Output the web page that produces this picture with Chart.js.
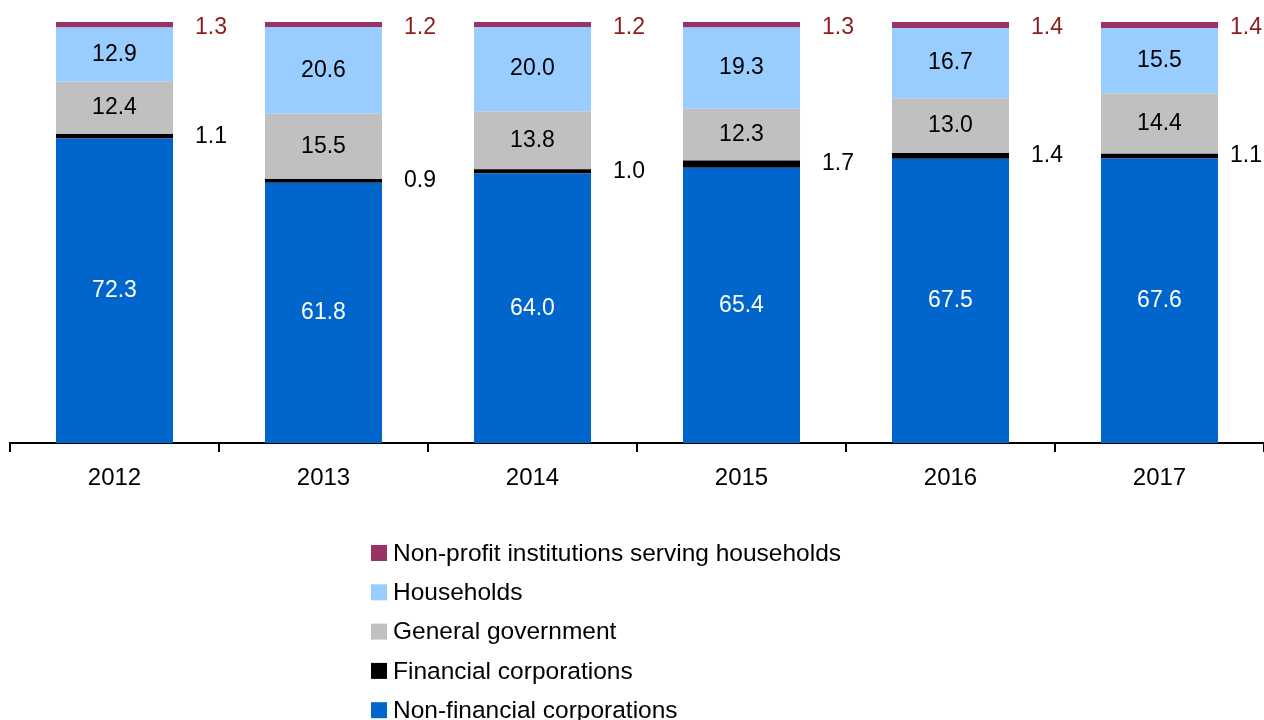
<!DOCTYPE html>
<html>
<head>
<meta charset="utf-8">
<script src="https://cdn.jsdelivr.net/npm/chart.js@4"></script>
<style>
  html, body { margin: 0; padding: 0; background: #fff; }
  #caja { width: 1264px; height: 720px; position: relative; }
</style>
</head>
<body>
<div id="caja"><canvas id="grafico"></canvas></div>
<script>
// Datos (porcentajes por sector)
const anios = ['2012', '2013', '2014', '2015', '2016', '2017'];
const noFinancieras = [72.3, 61.8, 64.0, 65.4, 67.5, 67.6];
const financieras = [1.1, 0.9, 1.0, 1.7, 1.4, 1.1];
const gobierno = [12.4, 15.5, 13.8, 12.3, 13.0, 14.4];
const hogares = [12.9, 20.6, 20.0, 19.3, 16.7, 15.5];
const isflsh = [1.3, 1.2, 1.2, 1.3, 1.4, 1.4];

const nombres = [
  'Non-financial corporations',
  'Financial corporations',
  'General government',
  'Households',
  'Non-profit institutions serving households'
];
const colores = ['#0066CC', '#000000', '#C0C0C0', '#99CCFF', '#993366'];
const series = [noFinancieras, financieras, gobierno, hogares, isflsh];

const fuente = '"Liberation Sans", Arial, sans-serif';

// Etiquetas: dentro de la barra para las series grandes, a la derecha para las finas
const etiquetas = {
  id: 'etiquetas',
  afterDatasetsDraw(chart) {
    const ctx = chart.ctx;
    ctx.save();
    ctx.font = '23px ' + fuente;
    ctx.textBaseline = 'middle';
    chart.data.datasets.forEach((ds, i) => {
      const meta = chart.getDatasetMeta(i);
      meta.data.forEach((barra, j) => {
        const texto = ds.data[j].toFixed(1);
        const yc = (barra.y + barra.base) / 2;
        if (i === 1 || i === 4) {
          const ancho = ctx.measureText(texto).width;
          let x = barra.x + barra.width / 2 + 22;
          x = Math.min(x, chart.width - ancho - 2);
          ctx.fillStyle = i === 4 ? '#8C1C1C' : '#000000';
          ctx.textAlign = 'left';
          ctx.fillText(texto, x, yc + (i === 4 ? 3 : 0));
        } else {
          ctx.fillStyle = i === 0 ? '#FFFFFF' : '#000000';
          ctx.textAlign = 'center';
          ctx.fillText(texto, barra.x, yc);
        }
      });
    });
    ctx.restore();
  }
};

// Leyenda vertical, orden inverso, alineada a la izquierda
const leyenda = {
  id: 'leyenda',
  afterDraw(chart) {
    const ctx = chart.ctx;
    ctx.save();
    ctx.font = '24.5px ' + fuente;
    ctx.textBaseline = 'middle';
    ctx.textAlign = 'left';
    const total = chart.data.datasets.length;
    for (let k = 0; k < total; k++) {
      const ds = chart.data.datasets[total - 1 - k];
      const y = 553 + k * 39.3;
      ctx.fillStyle = ds.backgroundColor;
      ctx.fillRect(371, y - 8, 16, 16);
      ctx.fillStyle = '#000000';
      ctx.fillText(ds.label, 393, y + 1);
    }
    ctx.restore();
  }
};

const crearGrafico = () => {
  const contexto = document.getElementById('grafico').getContext('2d');
  return new Chart(contexto, {
    type: 'bar',
    data: {
      labels: anios,
      datasets: series.map((valores, i) => ({
        label: nombres[i],
        data: valores,
        backgroundColor: colores[i],
        borderWidth: 0,
        barPercentage: 0.56,
        categoryPercentage: 1
      }))
    },
    options: {
      responsive: true,
      maintainAspectRatio: false,
      animation: false,
      layout: { padding: { top: 22, left: 10, right: 0, bottom: 0 } },
      plugins: {
        legend: { display: false },
        tooltip: { enabled: false }
      },
      scales: {
        x: {
          stacked: true,
          afterFit: (escala) => { escala.height = 277; },
          border: { display: true, color: '#000000', width: 2 },
          grid: {
            offset: true,
            drawOnChartArea: false,
            drawTicks: true,
            tickLength: 9,
            color: '#000000',
            lineWidth: 2
          },
          ticks: {
            color: '#000000',
            padding: 12,
            font: { family: fuente, size: 24 }
          }
        },
        y: {
          stacked: true,
          display: false,
          min: 0,
          max: 100
        }
      }
    },
    plugins: [etiquetas, leyenda]
  });
};

crearGrafico();
</script>
</body>
</html>
